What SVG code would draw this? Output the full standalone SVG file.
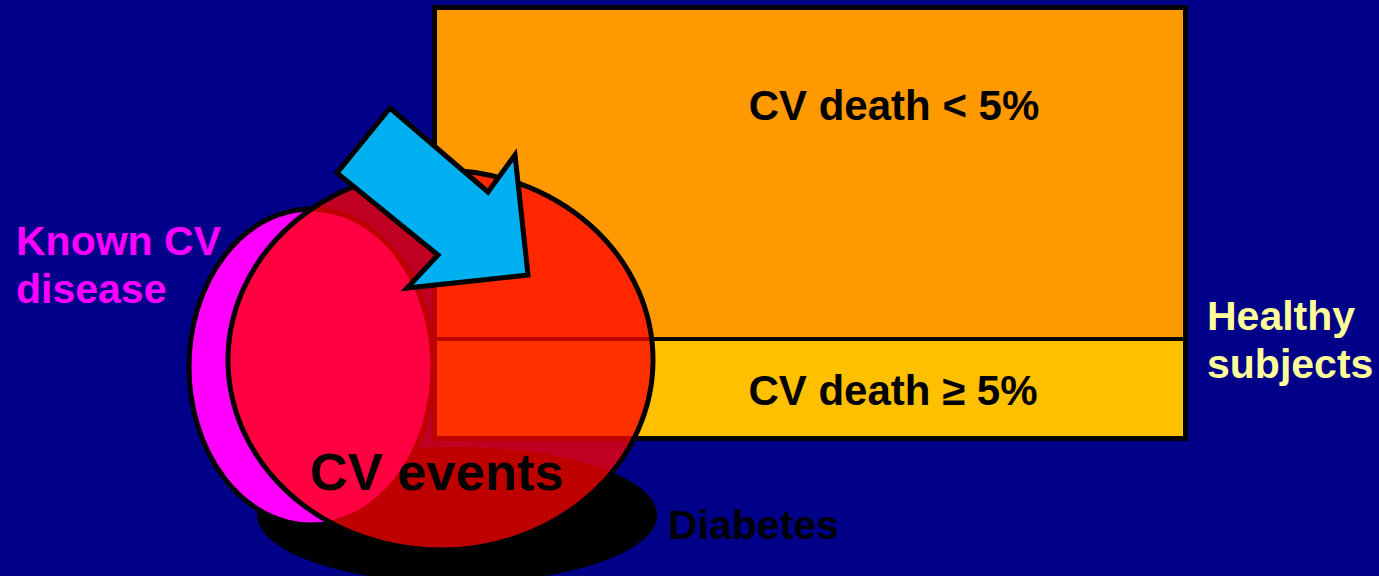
<svg xmlns="http://www.w3.org/2000/svg" width="1379" height="576" viewBox="0 0 1379 576">
<style>
.lbl{font-family:"Liberation Sans",Arial,sans-serif;font-weight:bold}
.edge{stroke:#000;stroke-width:5}
</style>
<rect x="0" y="0" width="1379" height="576" fill="#000088"/>
<g id="diabetes">
<ellipse cx="457" cy="515" rx="200" ry="68" fill="#000"/>
<text class="lbl" x="668" y="539" font-size="41" fill="#000">Diabetes</text>
</g>
<g id="known-cv">
<ellipse class="edge" cx="311" cy="367" rx="122" ry="158" fill="#FF00FF"/>
<text class="lbl" font-size="41" fill="#FF00FF"><tspan x="16" y="255">Known CV</tspan><tspan x="16" y="303">disease</tspan></text>
</g>
<g id="healthy">
<rect x="434.5" y="7.5" width="751" height="431" fill="#FF9900"/>
<rect x="434.5" y="339" width="751" height="99.5" fill="#FFC000"/>
<rect class="edge" x="434.5" y="7.5" width="751" height="431" fill="none"/>
<line x1="434.5" y1="339" x2="1185.5" y2="339" stroke="#000" stroke-width="4"/>
<text class="lbl" x="894" y="120" font-size="42" fill="#000" text-anchor="middle">CV death &lt; 5%</text>
<text class="lbl" x="893" y="405" font-size="42" fill="#000" text-anchor="middle">CV death ≥ 5%</text>
<text class="lbl" font-size="41" fill="#FFFF99"><tspan x="1207" y="330">Healthy</tspan><tspan x="1207" y="378">subjects</tspan></text>
</g>
<g id="cv-events">
<ellipse class="edge" cx="440.5" cy="360" rx="212.5" ry="190" fill="#FF0000" fill-opacity="0.75"/>
<text class="lbl" x="437" y="490" font-size="52.5" fill="#000" text-anchor="middle">CV events</text>
</g>
<g id="connectors">
<polygon class="edge" stroke-linejoin="miter" points="390,108 337,173 438,255 407,288 528,275 515,155 488,192" fill="#00B0F0"/>
</g>
</svg>
